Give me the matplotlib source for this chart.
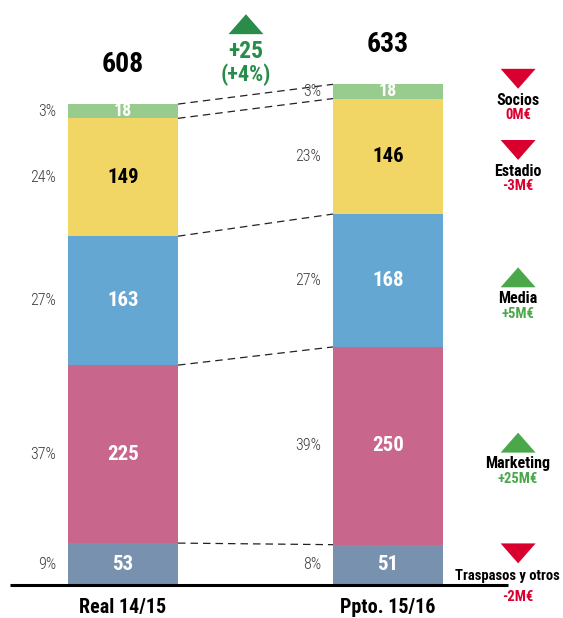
import matplotlib
matplotlib.use("Agg")
import matplotlib.pyplot as plt
from matplotlib import font_manager
import numpy as np

# Ingresos por concepto (M€)
periodos = ["Real 14/15", "Ppto. 15/16"]
conceptos = ["Traspasos y otros", "Marketing", "Media", "Estadio", "Socios"]
real_1415 = [53, 225, 163, 149, 18]
ppto_1516 = [51, 250, 168, 146, 18]
pct_1415 = ["9%", "37%", "27%", "24%", "3%"]
pct_1516 = ["8%", "39%", "27%", "23%", "3%"]
variacion = ["-2M€", "+25M€", "+5M€", "-3M€", "0M€"]
sube = [False, True, True, False, False]
diferencia = "+25"
diferencia_pct = "(+4%)"

colores = ["#7891ae", "#c9668b", "#65a7d3", "#f1d666", "#98cc8e"]
color_texto = ["white", "white", "white", "black", "white"]
verde_osc = "#2a8c4a"
verde = "#4aa84a"
rojo = "#d9002f"

# fuente estrecha si está instalada
nombres = {f.name for f in font_manager.fontManager.ttflist}
for fam in ["Roboto Condensed", "Liberation Sans Narrow", "DejaVu Sans"]:
    if fam in nombres:
        plt.rcParams["font.family"] = [fam, "DejaVu Sans"]
        break

fig = plt.figure(figsize=(5.63, 6.18), dpi=100)
ax = fig.add_axes([0, 0, 1, 1])
ax.set_xlim(-0.4642, 1.6604)
ax.set_ylim(-41.7, 739.6)
ax.axis("off")

ancho = 0.415
series = [real_1415, ppto_1516]
pcts = [pct_1415, pct_1516]

for i, vals in enumerate(series):
    base = np.concatenate([[0], np.cumsum(vals)[:-1]])
    ax.bar(i, vals, ancho, bottom=base, color=colores, zorder=3, linewidth=0)
    for v, b, c, p in zip(vals, base, color_texto, pcts[i]):
        fs = 13 if v < 30 else 15
        ax.text(i, b + v / 2, str(v), ha="center", va="center", color=c,
                fontsize=fs, fontweight="bold", zorder=4)
        ax.text(i - ancho / 2 - 0.045, b + v / 2, p, ha="right", va="center",
                color="#3c3c3c", fontsize=11.5, fontweight="light", zorder=4)
    total = sum(vals)
    ax.text(i, total + 50, str(total), ha="center", va="center",
            fontsize=20, fontweight="bold", color="black")
    ax.text(i, -29, periodos[i], ha="center", va="center",
            fontsize=14.5, fontweight="bold", color="black")

# líneas discontinuas entre los tramos de ambas barras
for y0, y1 in zip(np.cumsum(real_1415), np.cumsum(ppto_1516)):
    ax.plot([ancho / 2, 1 - ancho / 2], [y0, y1], color="#222222",
            lw=0.9, dashes=(6, 4), zorder=2)

# eje base
ax.plot([-0.426, 1.453], [0, 0], color="black", lw=2.2, zorder=5,
        solid_capstyle="butt", clip_on=False)


def triangulo(x, y, arriba, color):
    w, h = 0.066, 12.6
    if arriba:
        xs, ys = [x - w, x + w, x], [y - h, y - h, y + h]
    else:
        xs, ys = [x - w, x + w, x], [y + h, y + h, y - h]
    ax.fill(xs, ys, color=color, lw=0, zorder=3)


# variación total
triangulo(0.464, 709, True, verde_osc)
ax.text(0.464, 674, diferencia, ha="center", va="center", fontsize=17,
        fontweight="bold", color=verde_osc)
ax.text(0.464, 645, diferencia_pct, ha="center", va="center", fontsize=16,
        fontweight="bold", color=verde_osc)

# variación por concepto
y_tri = [40, 180, 389, 550, 640]
x_ley = 1.491
for nombre, var, up, yt in zip(conceptos, variacion, sube, y_tri):
    col = verde if up else rojo
    triangulo(x_ley, yt, up, col)
    if nombre == "Traspasos y otros":
        ax.text(1.452, yt - 28, nombre, ha="center", va="center",
                fontsize=10.5, fontweight="bold", color="black")
        dv = 55
    else:
        ax.text(x_ley, yt - 27, nombre, ha="center", va="center",
                fontsize=11.5, fontweight="bold", color="black")
        dv = 46
    ax.text(x_ley, yt - dv, var, ha="center", va="center", fontsize=10.5,
            fontweight="bold", color=col)

fig.savefig("out.png", dpi=100)
